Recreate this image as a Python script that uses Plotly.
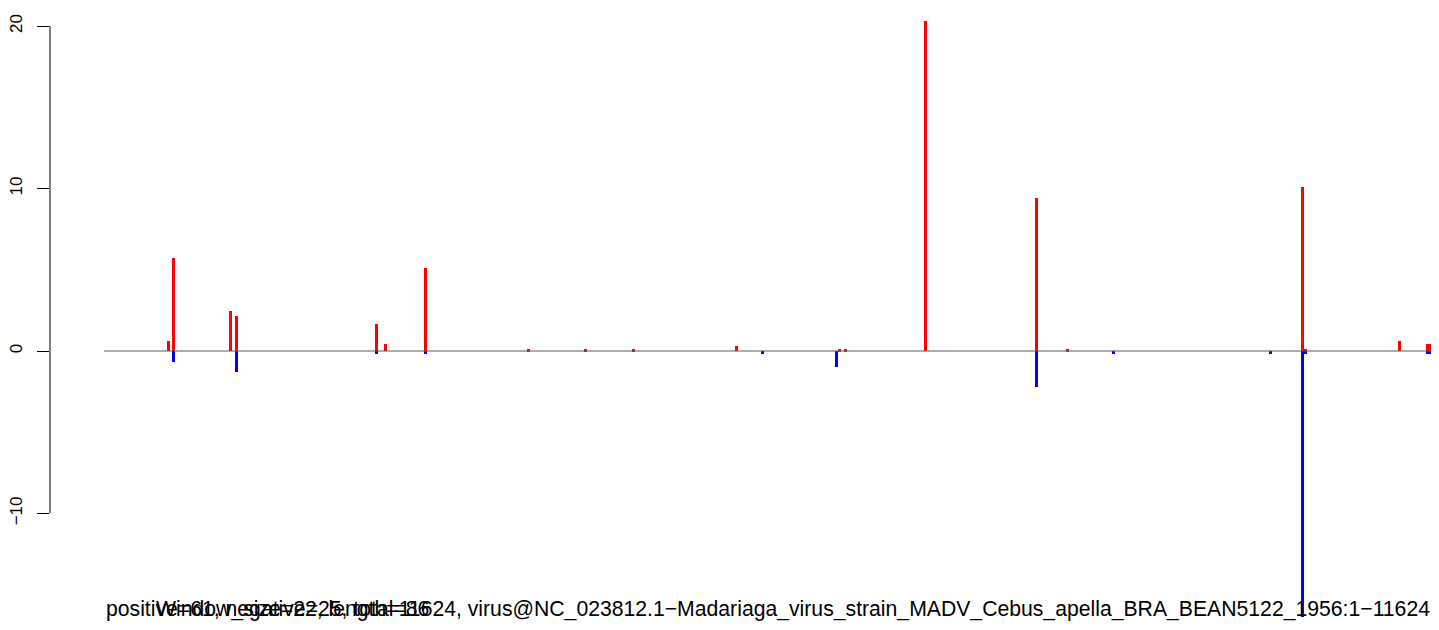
import plotly.graph_objects as go

# window positions along the genome (bp) and signal on each strand
pos_positions = [565, 608, 1107, 1160, 2385, 2464, 2814, 3716, 4215, 4635,
                 5536, 6438, 6490, 7191, 8162, 8434, 10491, 10517, 11340, 11598]
pos_values = [0.6, 5.7, 2.45, 2.15, 1.65, 0.43, 5.1, 0.12, 0.12, 0.12,
              0.3, 0.12, 0.12, 20.3, 9.4, 0.12, 10.1, 0.12, 0.6, 0.43]

neg_positions = [608, 1160, 2385, 2814, 5764, 6412, 8162, 8836, 10210, 10491,
                 10517, 11598]
neg_values = [-0.68, -1.3, -0.17, -0.17, -0.18, -1.0, -2.2, -0.18, -0.18, -16.4,
              -0.17, -0.17]

genome_length = 11624
y_ticks = [-10, 0, 10, 20]
info_text = "positive=61, negative=25, total=86"
title_text = ("Window_size=22, length=11624, virus@NC_023812.1\u2212Madariaga_virus_strain_"
              "MADV_Cebus_apella_BRA_BEAN5122_1956:1\u221211624")

FONT = "Liberation Sans, Arial, sans-serif"


def widths(positions):
    # last window runs to the end of the genome, so it is drawn wider
    return [52 if p == positions[-1] and p > 11500 else 26 for p in positions]


fig = go.Figure()

fig.add_trace(
    go.Bar(
        x=pos_positions,
        y=pos_values,
        width=widths(pos_positions),
        marker=dict(color='#FF0000', line=dict(width=0)),
        showlegend=False
    )
)

fig.add_trace(
    go.Bar(
        x=neg_positions,
        y=neg_values,
        width=widths(neg_positions),
        marker=dict(color='#0000FF', line=dict(width=0)),
        showlegend=False
    )
)

# baseline across the genome
fig.add_shape(type='line', xref='x', yref='y', x0=0, x1=genome_length, y0=0, y1=0,
              line=dict(color='#5a5a5a', width=1), layer='above')

# R-style axis line spanning only the tick range
fig.add_shape(type='line', xref='paper', yref='y', x0=0, x1=0,
              y0=min(y_ticks), y1=max(y_ticks),
              line=dict(color='black', width=1))

fig.add_annotation(x=0, y=0.0, xref='x', yref='paper', text=info_text,
                   xanchor='left', yanchor='bottom', yshift=7, showarrow=False,
                   font=dict(family=FONT, size=21.2, color='black'))
fig.add_annotation(x=genome_length, y=0.0, xref='x', yref='paper', text=title_text,
                   xanchor='right', yanchor='bottom', yshift=7, showarrow=False,
                   font=dict(family=FONT, size=21.2, color='black'))

# the page body adds an 8px margin, so the figure is sized 8px smaller
fig.update_layout(
    width=1431,
    height=622,
    margin=dict(l=42, r=0, t=0, b=0, autoexpand=False),
    barmode='overlay',
    bargap=0,
    plot_bgcolor='white',
    paper_bgcolor='white',
    xaxis=dict(range=[-473, 11685], visible=False, fixedrange=True, automargin=False),
    yaxis=dict(
        range=[-17.17, 21.11],
        tickvals=y_ticks,
        ticktext=['\u221210', '0', '10', '20'],
        ticks='outside',
        ticklen=12,
        tickwidth=1,
        tickcolor='black',
        tickangle=-90,
        ticklabelstandoff=8,
        tickfont=dict(family=FONT, size=17, color='black'),
        showgrid=False,
        zeroline=False,
        showline=False,
        automargin=False
    ),
    showlegend=False
)

fig.write_html("out.html")
